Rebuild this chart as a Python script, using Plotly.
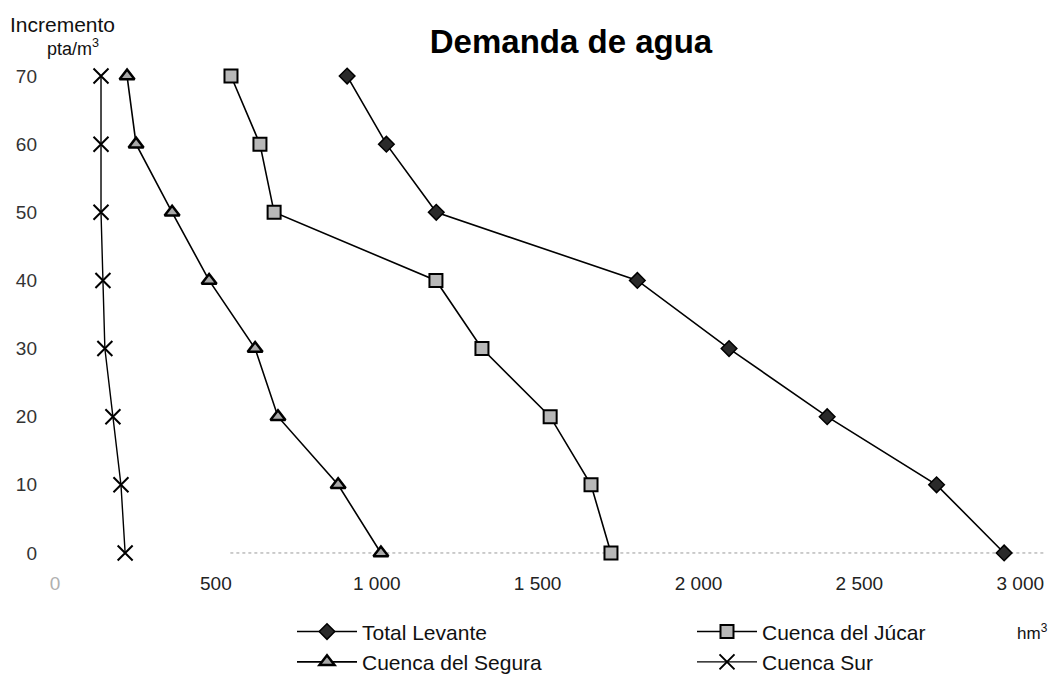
import plotly.graph_objects as go

incremento = [0, 10, 20, 30, 40, 50, 60, 70]
total_levante = [2950, 2740, 2400, 2095, 1810, 1185, 1030, 908]
cuenca_jucar = [1728, 1666, 1539, 1327, 1184, 681, 637, 547]
cuenca_segura = [1013, 880, 693, 622, 479, 364, 252, 224]
cuenca_sur = [218, 205, 180, 155, 149, 143, 143, 143]

x_ticks = [0, 500, 1000, 1500, 2000, 2500, 3000]
x_ticktext = ['<span style="color:#b0b0b0">0</span>', "500", "1 000", "1 500", "2 000", "2 500", "3 000"]
y_ticks = [0, 10, 20, 30, 40, 50, 60, 70]

FONT = "Liberation Sans, Arial, sans-serif"

fig = go.Figure()
fig.add_trace(go.Scatter(
    x=total_levante, y=incremento, name="Total Levante", mode="lines+markers",
    line=dict(color="black", width=1.6),
    marker=dict(symbol="diamond", size=12, color="#2a2a2a", line=dict(color="black", width=1.5)),
    legend="legend", cliponaxis=False))
fig.add_trace(go.Scatter(
    x=cuenca_segura, y=incremento, name="Cuenca del Segura", mode="lines+markers",
    line=dict(color="black", width=1.6),
    marker=dict(symbol="triangle-up", size=13, color="#a8a8a8", line=dict(color="black", width=2.5)),
    legend="legend", cliponaxis=False))
fig.add_trace(go.Scatter(
    x=cuenca_jucar, y=incremento, name="Cuenca del Júcar", mode="lines+markers",
    line=dict(color="black", width=1.6),
    marker=dict(symbol="square", size=13, color="#b8b8b8", line=dict(color="black", width=2)),
    legend="legend2", cliponaxis=False))
fig.add_trace(go.Scatter(
    x=cuenca_sur, y=incremento, name="Cuenca Sur", mode="lines+markers",
    line=dict(color="black", width=1.4),
    marker=dict(symbol="x-thin-open", size=15, color="black", line=dict(color="black", width=2)),
    legend="legend2", cliponaxis=False))

# faint dotted baseline at zero
fig.add_shape(type="line", xref="x", yref="y", x0=545, x1=3077, y0=0, y1=0,
              line=dict(color="#9a9a9a", width=1, dash="dot"), layer="below")

fig.update_layout(
    width=1052, height=684,
    margin=dict(l=55, r=7, t=59, b=114, autoexpand=False),
    paper_bgcolor="white", plot_bgcolor="white",
    font=dict(family=FONT, size=19, color="#222"),
    title=dict(text="<b>Demanda de agua</b>", x=571 / 1052, xref="container", xanchor="center",
               y=1 - 41 / 684, yref="container", yanchor="middle",
               font=dict(family=FONT, size=33, color="black")),
    xaxis=dict(range=[0, 3077], tickvals=x_ticks, ticktext=x_ticktext, showgrid=False,
               zeroline=False, showline=False, ticks="", ticklabelstandoff=0, automargin=False,
               tickfont=dict(size=19, color="#222")),
    yaxis=dict(range=[-2.5, 72.5], tickvals=y_ticks, showgrid=False, zeroline=False,
               showline=False, ticks="", ticklabelstandoff=17, automargin=False,
               tickfont=dict(size=19, color="#333")),
    legend=dict(x=(292 - 55) / 990, y=-0.081, xanchor="left", yanchor="top", orientation="v",
                bgcolor="rgba(0,0,0,0)", itemwidth=60, tracegroupgap=0,
                font=dict(family=FONT, size=21, color="#111")),
    legend2=dict(x=(692 - 55) / 990, y=-0.081, xanchor="left", yanchor="top", orientation="v",
                 bgcolor="rgba(0,0,0,0)", itemwidth=60, tracegroupgap=0,
                 font=dict(family=FONT, size=21, color="#111")),
    annotations=[
        dict(text="Incremento", xref="paper", yref="paper", x=(8 - 55) / 990, y=(570 - 25) / 511,
             xanchor="left", yanchor="middle", showarrow=False,
             font=dict(family=FONT, size=21, color="#111")),
        dict(text="pta/m<sup>3</sup>", xref="paper", yref="paper", x=(45 - 55) / 990, y=(570 - 48) / 511,
             xanchor="left", yanchor="middle", showarrow=False,
             font=dict(family=FONT, size=18, color="#111")),
        dict(text="hm<sup>3</sup>", xref="paper", yref="paper", x=(1050 - 55) / 990, y=(570 - 632) / 511,
             xanchor="right", yanchor="middle", showarrow=False,
             font=dict(family=FONT, size=17, color="#111")),
    ],
)

fig.write_html("out.html", config={"displayModeBar": False},
               post_script="document.body.style.margin='0';")
